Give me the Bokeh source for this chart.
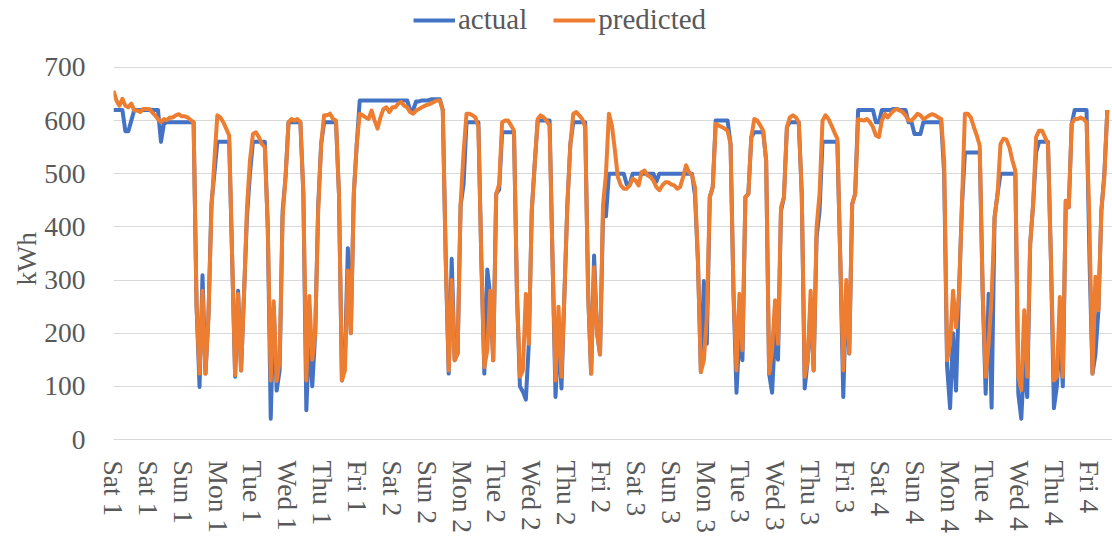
from bokeh.plotting import figure
from bokeh.models import Range1d, FixedTicker, Legend, LegendItem, ColumnDataSource, Title
from bokeh.embed import file_html
from bokeh.resources import INLINE

# x unit: half-hours; one value every 2 hours over 4 weeks
tick_labels = ["Sat 1", "Sat 1", "Sun 1", "Mon 1", "Tue 1", "Wed 1", "Thu 1", "Fri 1",
               "Sat 2", "Sun 2", "Mon 2", "Tue 2", "Wed 2", "Thu 2", "Fri 2",
               "Sat 3", "Sun 3", "Mon 3", "Tue 3", "Wed 3", "Thu 3", "Fri 3",
               "Sat 4", "Sun 4", "Mon 4", "Tue 4", "Wed 4", "Thu 4", "Fri 4"]
tick_step = 47  # half-hours between category labels
sample_step = 4  # half-hours between samples

actual = [
    620, 620, 620, 620, 580, 580, 600, 620, 620, 620, 620, 620,
    620, 620, 620, 620, 560, 594, 597, 597, 597, 597, 597, 597,
    597, 597, 597, 597, 250, 99, 309, 124, 230, 443, 500, 560,
    560, 560, 560, 560, 340, 118, 280, 130, 274, 420, 500, 560,
    560, 560, 560, 560, 400, 39, 250, 92, 130, 430, 494, 597,
    597, 597, 597, 597, 462, 55, 200, 100, 200, 440, 556, 597,
    597, 597, 597, 597, 462, 111, 150, 360, 200, 462, 556, 638,
    638, 638, 638, 638, 638, 638, 638, 638, 638, 638, 638, 638,
    638, 638, 638, 638, 620, 620, 636, 636, 638, 638, 638, 640,
    640, 640, 640, 620, 337, 124, 340, 149, 162, 440, 480, 597,
    597, 597, 597, 597, 337, 124, 320, 270, 149, 462, 470, 578,
    578, 578, 578, 578, 274, 100, 90, 75, 180, 431, 520, 600,
    600, 600, 600, 600, 337, 80, 200, 96, 274, 443, 556, 597,
    597, 597, 597, 597, 274, 124, 346, 200, 160, 420, 420, 500,
    500, 500, 500, 500, 500, 480, 480, 500, 500, 500, 500, 500,
    500, 500, 500, 485, 500, 500, 500, 500, 500, 500, 500, 500,
    500, 500, 500, 500, 460, 337, 127, 298, 180, 456, 475, 600,
    600, 600, 600, 600, 556, 274, 88, 200, 149, 456, 462, 569,
    578, 578, 578, 578, 525, 124, 88, 200, 150, 430, 456, 588,
    597, 597, 597, 597, 462, 96, 149, 250, 130, 380, 430, 560,
    560, 560, 560, 560, 560, 337, 80, 280, 162, 443, 462, 620,
    620, 620, 620, 620, 620, 597, 597, 620, 620, 620, 620, 622,
    622, 620, 620, 620, 597, 597, 575, 575, 575, 597, 597, 597,
    597, 597, 597, 597, 500, 137, 59, 200, 92, 274, 440, 540,
    540, 540, 540, 540, 540, 274, 86, 274, 60, 418, 462, 500,
    500, 500, 500, 500, 500, 86, 39, 150, 80, 368, 443, 540,
    560, 560, 560, 560, 337, 59, 100, 200, 100, 449, 437, 594,
    620, 620, 620, 620, 620, 337, 124, 160, 243, 431, 500, 620,
]

predicted = [
    656, 638, 628, 641, 628, 625, 632, 619, 619, 616, 622, 622,
    622, 616, 610, 603, 597, 603, 601, 606, 606, 610, 612, 608,
    608, 606, 601, 597, 250, 124, 280, 124, 230, 431, 525, 610,
    606, 597, 585, 572, 340, 121, 274, 130, 274, 437, 525, 575,
    578, 569, 556, 550, 400, 111, 260, 110, 149, 418, 494, 597,
    603, 600, 603, 597, 462, 111, 270, 150, 200, 431, 556, 610,
    610, 613, 603, 600, 462, 111, 130, 318, 200, 462, 556, 613,
    610, 606, 603, 619, 600, 585, 606, 622, 625, 616, 625, 625,
    632, 635, 628, 625, 616, 613, 619, 622, 625, 628, 630, 632,
    635, 638, 638, 620, 337, 130, 300, 149, 162, 443, 540, 613,
    613, 610, 606, 588, 337, 136, 168, 280, 149, 462, 480, 597,
    600, 600, 591, 581, 274, 118, 130, 274, 180, 431, 520, 603,
    610, 606, 600, 591, 337, 111, 250, 118, 274, 443, 556, 613,
    616, 610, 603, 588, 274, 124, 324, 200, 160, 440, 500, 613,
    591, 545, 494, 478, 472, 472, 478, 491, 487, 478, 503, 506,
    497, 494, 487, 475, 469, 478, 484, 484, 480, 478, 472, 475,
    494, 516, 503, 497, 475, 337, 127, 149, 230, 456, 475, 594,
    591, 588, 585, 581, 556, 274, 130, 274, 168, 456, 462, 569,
    603, 600, 591, 581, 525, 124, 168, 262, 180, 437, 456, 588,
    606, 610, 606, 597, 462, 118, 149, 280, 130, 400, 462, 600,
    610, 603, 591, 578, 566, 337, 130, 300, 162, 443, 462, 603,
    601, 600, 603, 597, 588, 572, 569, 600, 613, 606, 613, 619,
    622, 619, 616, 610, 600, 600, 606, 613, 610, 603, 606, 610,
    612, 610, 606, 603, 525, 149, 180, 280, 211, 274, 443, 613,
    613, 606, 588, 572, 553, 274, 118, 180, 268, 418, 462, 556,
    566, 564, 550, 525, 506, 118, 93, 243, 118, 368, 443, 569,
    581, 581, 569, 556, 337, 111, 118, 268, 118, 449, 437, 594,
    603, 603, 606, 603, 597, 400, 124, 306, 243, 431, 494, 620,
]

y_ticks = [0, 100, 200, 300, 400, 500, 600, 700]
y_top = 826  # room above 700 for the legend

x = [i * sample_step for i in range(len(actual))]
src = ColumnDataSource(data=dict(x=x, actual=actual, predicted=predicted))

FONT = "Liberation Serif"
TXT = "#595959"
FS = "27.5px"

p = figure(width=1112, height=537, output_backend="svg", toolbar_location=None,
           x_range=Range1d(0, 1347), y_range=Range1d(0, y_top),
           min_border_left=113, min_border_right=0, min_border_top=0, min_border_bottom=98)
p.outline_line_color = None
p.background_fill_color = "white"
p.border_fill_color = "white"

r_act = p.line("x", "actual", source=src, line_color="#4472C4", line_width=4, line_join="round")
r_pre = p.line("x", "predicted", source=src, line_color="#ED7D31", line_width=4, line_join="round")

p.xgrid.grid_line_color = None
p.ygrid.ticker = FixedTicker(ticks=y_ticks)
p.ygrid.grid_line_color = "#D9D9D9"
p.ygrid.grid_line_width = 1

xt = [i * tick_step for i in range(len(tick_labels))]
p.xaxis.ticker = FixedTicker(ticks=xt)
p.xaxis.major_label_overrides = {t: lab for t, lab in zip(xt, tick_labels)}
p.xaxis.major_label_orientation = "vertical"
p.xaxis.axis_line_color = "#D9D9D9"
p.xaxis.major_tick_line_color = None
p.xaxis.minor_tick_line_color = None
p.xaxis.major_label_standoff = 15
p.xaxis.major_label_text_font = FONT
p.xaxis.major_label_text_font_size = FS
p.xaxis.major_label_text_color = TXT

p.yaxis.ticker = FixedTicker(ticks=y_ticks)
p.yaxis.axis_line_color = None
p.yaxis.major_tick_line_color = None
p.yaxis.minor_tick_line_color = None
p.yaxis.major_label_standoff = 22
p.yaxis.major_label_text_font = FONT
p.yaxis.major_label_text_font_size = FS
p.yaxis.major_label_text_color = TXT

ytitle = Title(text="kWh", align="left", offset=154, standoff=0,
               text_font=FONT, text_font_size=FS, text_font_style="normal",
               text_color=TXT)
p.add_layout(ytitle, "left")

legend = Legend(items=[LegendItem(label="actual", renderers=[r_act]),
                       LegendItem(label="predicted", renderers=[r_pre])],
                orientation="horizontal", location=(300, 403),
                glyph_width=42, glyph_height=30, label_standoff=3, spacing=26,
                padding=0, margin=0, border_line_color=None, background_fill_alpha=0,
                label_text_font=FONT, label_text_font_size="29px", label_text_color=TXT)
p.add_layout(legend)

open("out.html", "w").write(file_html(p, INLINE))
